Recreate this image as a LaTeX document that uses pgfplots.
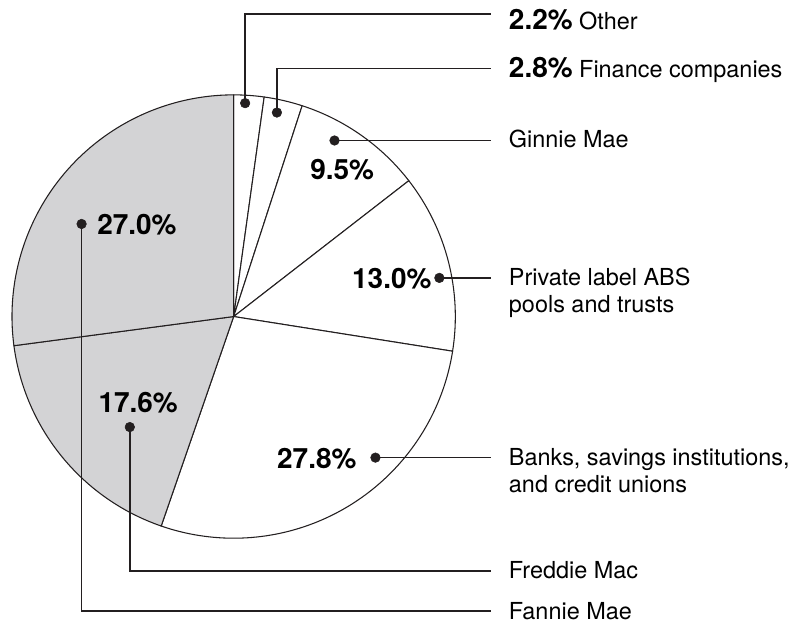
\documentclass[border=0pt]{standalone}
\usepackage{pgfplots}
\pgfplotsset{compat=1.18}
\usepackage{fontspec}
\setmainfont{TeX Gyre Heros}
\definecolor{gfill}{RGB}{211,211,213}
\definecolor{ink}{RGB}{35,31,32}
% pie centre (px) and radius
\newcommand\cx{234}
\newcommand\cy{317}
\newcommand\slice[3]{% cumulative start %, cumulative end %, fill
  \filldraw[fill=#3, draw=ink, line width=0.8pt, line join=round]
    (axis cs:\cx,\cy) -- ++({90-3.6*#1}:166.5pt)
    arc[start angle={90-3.6*#1}, end angle={90-3.6*#2}, radius=166.5pt] -- cycle;}
\newcommand\bigf{\fontsize{21pt}{25pt}\selectfont\bfseries}
\newcommand\regf{\fontsize{17.6pt}{20.25pt}\selectfont}
\begin{document}
\begin{tikzpicture}
\begin{axis}[
  x=0.75pt, y=0.75pt, y dir=reverse,
  xmin=0, xmax=794, ymin=0, ymax=625,
  hide axis, clip=false,
  every node/.style={inner sep=0pt, outer sep=0pt, text=ink},
]
% slices: Other 2.2, Finance 2.8, Ginnie 9.5, Private 13.0, Banks 27.8, Freddie 17.6, Fannie 27.0
\slice{0}{2.2}{white}
\slice{2.2}{5.0}{white}
\slice{5.0}{14.5}{white}
\slice{14.5}{27.5}{white}
\slice{27.5}{55.3}{white}
\slice{55.3}{72.9}{gfill}
\slice{72.9}{100}{gfill}
% leader lines
\pgfplotsset{leader/.style={ink, line width=1.05pt, mark=none, line join=miter}}
\addplot[leader] coordinates {(245.5,103.3) (245.5,14) (491.7,14)};
\addplot[leader] coordinates {(277.3,112.7) (277.3,68.3) (491.7,68.3)};
\addplot[leader] coordinates {(335,140.7) (491.7,140.7)};
\addplot[leader] coordinates {(440,278.3) (491.7,278.3)};
\addplot[leader] coordinates {(376,458.3) (491.7,458.3)};
\addplot[leader] coordinates {(130,427.7) (130,572) (491.7,572)};
\addplot[leader] coordinates {(81.7,224.3) (81.7,612) (491.7,612)};
% dots
\addplot[only marks, mark=*, mark size=3.6pt, mark options={fill=ink, draw=ink}]
  coordinates {(245.5,103.3) (277.3,112.7) (335,140.7) (440,278.3) (376,458.3) (130,427.7) (81.7,224.3)};
% percentages inside the pie
\node[anchor=base west, font=\bigf] at (axis cs:306,179.3) {9.5\%};
\node[anchor=base west, font=\bigf] at (axis cs:348,289) {13.0\%};
\node[anchor=base east, font=\bigf] at (axis cs:361.7,469) {27.8\%};
\node[anchor=base west, font=\bigf] at (axis cs:94,413) {17.6\%};
\node[anchor=base west, font=\bigf] at (axis cs:92.7,235) {27.0\%};
% right-hand labels
\node[anchor=base west, font=\regf] at (axis cs:505,29.3) {{\bigf 2.2\%} Other};
\node[anchor=base west, font=\regf] at (axis cs:505,77.3) {{\bigf 2.8\%} Finance companies};
\node[anchor=base west, font=\regf] at (axis cs:505,148) {Ginnie Mae};
\node[anchor=base west, font=\regf] at (axis cs:505,286) {Private label ABS};
\node[anchor=base west, font=\regf] at (axis cs:505,313) {pools and trusts};
\node[anchor=base west, font=\regf] at (axis cs:505,466) {Banks, savings institutions,};
\node[anchor=base west, font=\regf] at (axis cs:505,493) {and credit unions};
\node[anchor=base west, font=\regf] at (axis cs:505,579.5) {Freddie Mac};
\node[anchor=base west, font=\regf] at (axis cs:505,620) {Fannie Mae};
\path (axis cs:0,0) (axis cs:794,625);
\end{axis}
\end{tikzpicture}
\end{document}
